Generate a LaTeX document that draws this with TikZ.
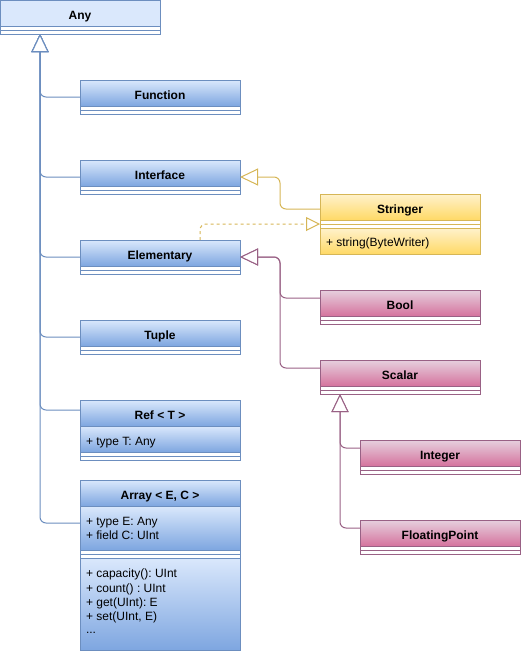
\documentclass[tikz,border=0pt]{standalone}
\usepackage{fontspec}
\setmainfont{Liberation Sans}
\usetikzlibrary{arrows.meta,calc}
\definecolor{bfillA}{HTML}{DAE8FC}
\definecolor{bfillB}{HTML}{7EA6E0}
\definecolor{bline}{HTML}{6C8EBF}
\definecolor{yfillA}{HTML}{FFF2CC}
\definecolor{yfillB}{HTML}{FFD966}
\definecolor{yline}{HTML}{D6B656}
\definecolor{pfillA}{HTML}{E6D0DE}
\definecolor{pfillB}{HTML}{D5739D}
\definecolor{pline}{HTML}{996185}
\tikzset{
  every node/.style={inner sep=0pt, outer sep=0pt},
  sect/.style={draw, line width=1pt, minimum width=160pt, anchor=north west},
  headbox/.style={sect, minimum height=26pt, font=\bfseries\fontsize{12}{14}\selectfont\frenchspacing, text height=13pt, text depth=0pt},
  sepbox/.style={sect, minimum height=8pt, fill=white},
  rowbox/.style={sect, minimum height=#1},
  blueG/.style={draw=bline, top color=bfillA, bottom color=bfillB},
  yellowG/.style={draw=yline, top color=yfillA, bottom color=yfillB},
  pinkG/.style={draw=pline, top color=pfillA, bottom color=pfillB},
  member/.style={anchor=base west, font=\fontsize{12}{14}\selectfont\frenchspacing},
  gen/.style={-{Triangle[open,length=18pt,width=17pt,fill=white]}, rounded corners=6pt, line width=1pt},
  realz/.style={-{Triangle[open,length=14pt,width=14pt,fill=white]}, rounded corners=6pt, line width=1pt, dash pattern=on 3pt off 3pt},
}
\newcommand\sepline[2]{\draw[#1, line width=1pt] (#2.west) -- (#2.east);}
\begin{document}
\begin{tikzpicture}[x=1pt,y=-1pt]
\useasboundingbox (0,0) rectangle (521,653);

% ---- Any
\node[headbox, draw=bline, fill=bfillA] (anyh) at (0,0) {Any};
\node[sepbox, draw=bline] (anys) at (anyh.south west) {};
\sepline{bline}{anys}

% ---- simple blue classes
\node[headbox, blueG] (funch) at (80,80) {Function};
\node[sepbox, draw=bline] (funcs) at (funch.south west) {};
\sepline{bline}{funcs}

\node[headbox, blueG] (intfh) at (80,160) {Interface};
\node[sepbox, draw=bline] (intfs) at (intfh.south west) {};
\sepline{bline}{intfs}

\node[headbox, blueG] (elemh) at (80,240) {Elementary};
\node[sepbox, draw=bline] (elems) at (elemh.south west) {};
\sepline{bline}{elems}

\node[headbox, blueG] (tupleh) at (80,320) {Tuple};
\node[sepbox, draw=bline] (tuples) at (tupleh.south west) {};
\sepline{bline}{tuples}

% ---- Ref
\node[headbox, blueG] (refh) at (80,400) {Ref < T >};
\node[rowbox=26pt, blueG] (refa) at (refh.south west) {};
\node[sepbox, draw=bline] (refs) at (refa.south west) {};
\sepline{bline}{refs}
\node[member] (refa1) at (86,445) {+ type T: Any};

% ---- Array
\node[headbox, blueG] (arrh) at (80,480) {Array < E, C >};
\node[rowbox=44pt, blueG] (arra) at (arrh.south west) {};
\node[sepbox, draw=bline] (arrs) at (arra.south west) {};
\sepline{bline}{arrs}
\node[rowbox=92pt, blueG] (arrm) at (arrs.south west) {};
\node[member] (arra1) at (86,525.3) {+ type E: Any};
\node[member] (arra2) at (86,539.5) {+ field C: UInt};
\node[member] (arrm1) at (86,577.9) {+ capacity(): UInt};
\node[member] (arrm2) at (86,592.1) {+ count() : UInt};
\node[member] (arrm3) at (86,606.3) {+ get(UInt): E};
\node[member] (arrm4) at (86,620.5) {+ set(UInt, E)};
\node[member] (arrm5) at (86,633.5) {...};

% ---- Stringer
\node[headbox, yellowG] (strh) at (320,194) {Stringer};
\node[sepbox, draw=yline] (strs) at (strh.south west) {};
\sepline{yline}{strs}
\node[rowbox=26pt, yellowG] (strm) at (strs.south west) {};
\node[member] (strm1) at (326,246.5) {+ string(ByteWriter)};

% ---- pink classes
\node[headbox, pinkG] (boolh) at (320,290) {Bool};
\node[sepbox, draw=pline] (bools) at (boolh.south west) {};
\sepline{pline}{bools}

\node[headbox, pinkG] (scalh) at (320,360) {Scalar};
\node[sepbox, draw=pline] (scals) at (scalh.south west) {};
\sepline{pline}{scals}

\node[headbox, pinkG] (inth) at (360,440) {Integer};
\node[sepbox, draw=pline] (ints) at (inth.south west) {};
\sepline{pline}{ints}

\node[headbox, pinkG] (fph) at (360,520) {FloatingPoint};
\node[sepbox, draw=pline] (fps) at (fph.south west) {};
\sepline{pline}{fps}

% ---- connection points
\coordinate (anytip) at ($(anys.south west)+(40,0)$);
\coordinate (funcin) at ($(funch.north west)+(0,17)$);
\coordinate (intfin) at ($(intfh.north west)+(0,17)$);
\coordinate (elemin) at ($(elemh.north west)+(0,17)$);
\coordinate (tuplein) at ($(tupleh.north west)+(0,17)$);
\coordinate (refin) at ($(refh.north west)+(0,10)$);
\coordinate (arrin) at ($(arrh.north west)+(0,43)$);

\coordinate (intfout) at ($(intfh.north east)+(0,17)$);
\coordinate (elemout) at ($(elemh.north east)+(0,17)$);
\coordinate (elemtop) at ($(elemh.north west)+(120,0)$);
\coordinate (strin) at ($(strh.north west)+(0,15)$);
\coordinate (boolin) at ($(boolh.north west)+(0,8)$);
\coordinate (scalin) at ($(scalh.north west)+(0,8)$);
\coordinate (scaltip) at ($(scals.south west)+(20,0)$);
\coordinate (intin) at ($(inth.north west)+(0,8)$);
\coordinate (fpin) at ($(fph.north west)+(0,8)$);

\coordinate (strmid) at ($(strin)!.5!(intfout)$);
\coordinate (boolmid) at ($(boolin)!.5!(elemout)$);
\coordinate (scalmid) at ($(scalin)!.5!(elemout)$);

% ---- blue generalisations
\draw[gen, bline] (funcin) -| (anytip);
\draw[gen, bline] (intfin) -| (anytip);
\draw[gen, bline] (elemin) -| (anytip);
\draw[gen, bline] (tuplein) -| (anytip);
\draw[gen, bline] (refin) -| (anytip);
\draw[gen, bline] (arrin) -| (anytip);

% ---- yellow
\draw[gen, yline] (strin) -| (strmid |- intfout) -- (intfout);
\draw[realz, yline] (elemtop) |- (strs.west);

% ---- pink
\draw[gen, pline] (boolin) -| (boolmid |- elemout) -- (elemout);
\draw[gen, pline] (scalin) -| (scalmid |- elemout) -- (elemout);
\draw[gen, pline] (intin) -| (scaltip);
\draw[gen, pline] (fpin) -| (scaltip);
\end{tikzpicture}
\end{document}
